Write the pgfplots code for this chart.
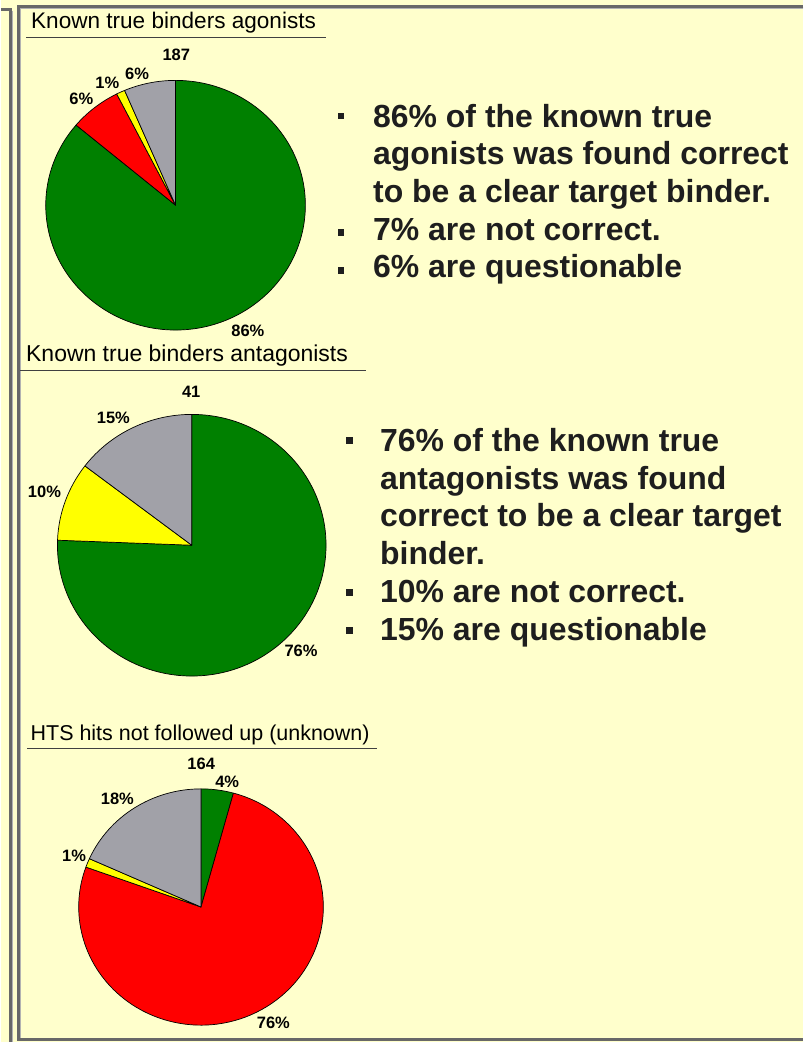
\documentclass[border=0pt]{standalone}
\usepackage{pgfplots}
\pgfplotsset{compat=1.18}
\usepackage{fontspec}
\setmainfont{Liberation Sans}
\definecolor{bgy}{RGB}{255,255,204}
\definecolor{pgreen}{RGB}{0,128,0}
\definecolor{pred}{RGB}{255,0,0}
\definecolor{pyellow}{RGB}{255,255,0}
\definecolor{pgray}{RGB}{161,161,168}
\definecolor{bord}{RGB}{104,104,104}
\definecolor{txt}{RGB}{30,30,30}
% #1 cumulative start, #2 value, #3 total, #4 colour
\newcommand{\slice}[4]{%
  \filldraw[fill=#4,draw=black,line width=0.7pt,line join=round]
    (axis cs:0,0) -- (axis cs:{cos(90-(#1)/(#3)*360)},{sin(90-(#1)/(#3)*360)})
    arc[start angle={90-(#1)/(#3)*360},end angle={90-(#1+#2)/(#3)*360},x radius=1,y radius=1] -- cycle;}
\pgfplotsset{pie/.style={anchor=center,scale only axis,hide axis,xmin=-1,xmax=1,ymin=-1,ymax=1,clip=false}}
\tikzset{lab/.style={font=\bfseries\fontsize{16.5}{18}\selectfont}}
\newcommand{\bul}{\color{txt}\bfseries\fontsize{32}{38}\selectfont}
\begin{document}
\begin{tikzpicture}[x=1pt,y=1pt]
\fill[bgy] (0,0) rectangle (803,-1043);
% left strip border
\draw[bord,line width=3pt] (0,-10) -- (9.5,-10) -- (9.5,-1043);
\draw[black!30,line width=1pt] (11.5,-11) -- (11.5,-1043);
% main panel border
\draw[bord,line width=3pt] (803,-6.5) -- (17,-6.5) -- (17,-1040.5) -- (803,-1040.5);
\draw[black!30,line width=1pt] (803,-8.5) -- (19,-8.5) -- (19,-1039);

% ---------- pie 1 ----------
\begin{axis}[pie,at={(174.3pt,-205.5pt)},width=260pt,height=250pt]
\slice{0}{161}{187}{pgreen}
\slice{161}{12}{187}{pred}
\slice{173}{2}{187}{pyellow}
\slice{175}{12}{187}{pgray}
\end{axis}
\node[anchor=base west,inner sep=0] at (29.5,-28.3) {\fontsize{22.6}{24}\selectfont Known true binders agonists};
\draw[black!75,line width=0.8pt] (25,-37.5) -- (325,-37.5);
\node[lab] at (175,-55) {187};
\node[lab] at (80,-99.3) {6\%};
\node[lab] at (106,-83.3) {1\%};
\node[lab] at (135.7,-74) {6\%};
\node[lab] at (246.7,-331.7) {86\%};
\fill[txt] (336.7,-112.8) rectangle (343.3,-119.4);
\node[anchor=base west,inner sep=0] at (372,-127.3) {\bul 86\% of the known true};
\node[anchor=base west,inner sep=0] at (372,-165) {\bul agonists was found correct};
\node[anchor=base west,inner sep=0] at (372,-202.7) {\bul to be a clear target binder.};
\fill[txt] (336.7,-229.8) rectangle (343.3,-236.4);
\node[anchor=base west,inner sep=0] at (372,-240.4) {\bul 7\% are not correct.};
\fill[txt] (336.7,-267.5) rectangle (343.3,-274.1);
\node[anchor=base west,inner sep=0] at (372,-278.1) {\bul 6\% are questionable};

% ---------- pie 2 ----------
\begin{axis}[pie,at={(190.5pt,-546pt)},width=269pt,height=262pt]
\slice{0}{31}{41}{pgreen}
\slice{31}{4}{41}{pyellow}
\slice{35}{6}{41}{pgray}
\end{axis}
\node[anchor=base west,inner sep=0] at (24.5,-361.7) {\fontsize{23}{25}\selectfont Known true binders antagonists};
\draw[black!75,line width=0.8pt] (19,-370.7) -- (365,-370.7);
\node[lab] at (190,-392) {41};
\node[lab] at (112,-418) {15\%};
\node[lab] at (43,-493) {10\%};
\node[lab] at (300,-652) {76\%};
\fill[txt] (345,-438) rectangle (351.6,-444.6);
\node[anchor=base west,inner sep=0] at (379,-451.7) {\bul 76\% of the known true};
\node[anchor=base west,inner sep=0] at (379,-489.7) {\bul antagonists was found};
\node[anchor=base west,inner sep=0] at (379,-527.7) {\bul correct to be a clear target};
\node[anchor=base west,inner sep=0] at (379,-565.7) {\bul binder.};
\fill[txt] (345,-590) rectangle (351.6,-596.6);
\node[anchor=base west,inner sep=0] at (379,-603.7) {\bul 10\% are not correct.};
\fill[txt] (345,-628) rectangle (351.6,-634.6);
\node[anchor=base west,inner sep=0] at (379,-641.7) {\bul 15\% are questionable};

% ---------- pie 3 ----------
\begin{axis}[pie,at={(199.8pt,-908.3pt)},width=245pt,height=236.6pt]
\slice{0}{7}{164}{pgreen}
\slice{7}{125}{164}{pred}
\slice{132}{2}{164}{pyellow}
\slice{134}{30}{164}{pgray}
\end{axis}
\node[anchor=base west,inner sep=0] at (29,-741.7) {\fontsize{21.5}{23}\selectfont HTS hits not followed up (unknown)};
\draw[black!75,line width=0.8pt] (26,-749.3) -- (376,-749.3);
\node[lab] at (200,-765) {164};
\node[lab] at (226,-782.7) {4\%};
\node[lab] at (116,-800) {18\%};
\node[lab] at (72.7,-856.7) {1\%};
\node[lab] at (272.3,-1024) {76\%};
\end{tikzpicture}
\end{document}
